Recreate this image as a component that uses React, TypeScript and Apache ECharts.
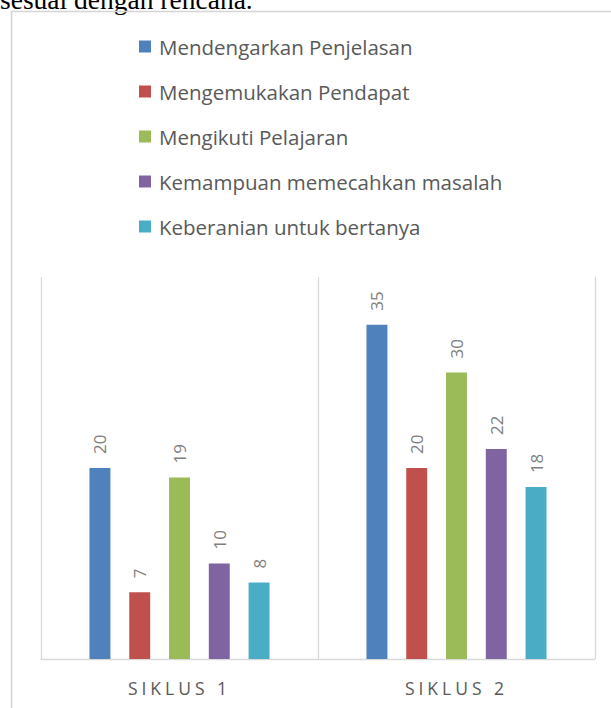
import React, { useEffect, useRef } from "react";
import * as echarts from "echarts";

const categories = ["SIKLUS 1", "SIKLUS 2"];
const seriesNames = [
  "Mendengarkan Penjelasan",
  "Mengemukakan Pendapat",
  "Mengikuti Pelajaran",
  "Kemampuan memecahkan masalah",
  "Keberanian untuk bertanya",
];
const mendengarkan = [20, 35];
const mengemukakan = [7, 20];
const mengikuti = [19, 30];
const kemampuan = [10, 22];
const keberanian = [8, 18];
const colors = ["#4F81BD", "#C0504D", "#9BBB59", "#8064A2", "#4BACC6"];
const headingText = "sesuai dengan rencana.";

export default function App() {
  const ref = useRef<HTMLDivElement>(null);
  useEffect(() => {
    if (!ref.current) return;
    const chart = echarts.init(ref.current, null, { renderer: "svg" });
    const values = [mendengarkan, mengemukakan, mengikuti, kemampuan, keberanian];
    chart.setOption({
      animation: false,
      backgroundColor: "#ffffff",
      textStyle: { fontFamily: "Open Sans" },
      graphic: [
        {
          type: "text",
          left: 0,
          style: {
            text: headingText,
            x: 0,
            y: -1,
            font: "27.5px 'Liberation Serif'",
            fill: "#000000",
            verticalAlign: "middle",
          },
        },
        {
          type: "polyline",
          shape: { points: [[611, 11.5], [11.5, 11.5], [11.5, 708]] },
          style: { stroke: "#d4d4d4", lineWidth: 1.5, fill: "none" },
        },
      ],
      legend: {
        orient: "vertical",
        left: 139,
        top: 36,
        padding: 0,
        itemWidth: 12,
        itemHeight: 12,
        itemGap: 24,
        icon: "rect",
        data: seriesNames,
        textStyle: {
          fontFamily: "Open Sans",
          fontSize: 20.5,
          color: "#595959",
          padding: [0, 0, 0, 3],
        },
      },
      grid: { left: 41, right: 16, top: 277, bottom: 49 },
      xAxis: {
        type: "category",
        data: categories,
        axisLine: { lineStyle: { color: "#d9d9d9", width: 1.3 } },
        axisTick: { show: false },
        splitLine: { show: true, lineStyle: { color: "#d9d9d9", width: 1.3 } },
        axisLabel: {
          color: "#595959",
          fontSize: 17.5,
          fontFamily: "Open Sans",
          margin: 20,
        },
      },
      yAxis: {
        type: "value",
        min: 0,
        max: 40,
        show: false,
        splitLine: { show: false },
      },
      series: seriesNames.map((name, i) => ({
        name,
        type: "bar",
        data: values[i],
        barGap: "90%",
        barCategoryGap: "35%",
        itemStyle: { color: colors[i] },
        label: {
          show: true,
          position: "top",
          rotate: 90,
          align: "left",
          verticalAlign: "middle",
          distance: 14,
          color: "#7f7f7f",
          fontSize: 17,
          fontFamily: "Open Sans",
        },
      })),
    });
    const svg = ref.current.querySelector("svg");
    if (svg) {
      svg.querySelectorAll("text").forEach((t) => {
        const c = t.textContent || "";
        if (categories.includes(c)) {
          (t as SVGTextElement).style.letterSpacing = "4px";
        }
      });
    }
    return () => chart.dispose();
  }, []);
  return (
    <div
      ref={ref}
      style={{ position: "absolute", left: 0, top: 0, width: 611, height: 708 }}
    />
  );
}
